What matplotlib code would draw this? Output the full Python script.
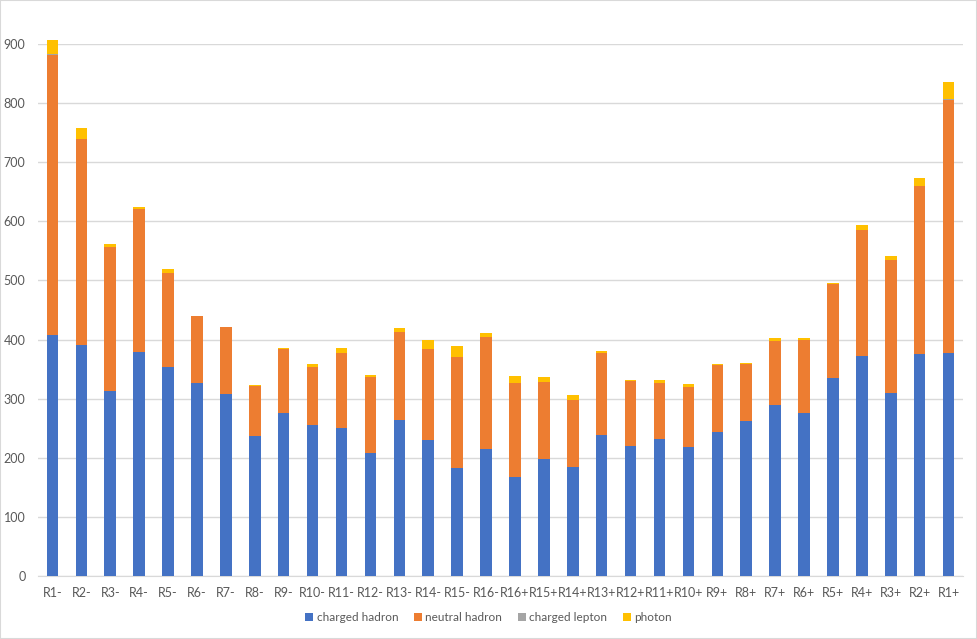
import numpy as np
import matplotlib.pyplot as plt
from matplotlib.patches import Rectangle

plt.rcParams['font.family'] = ['Lato', 'DejaVu Sans']

# categories: R1- .. R16-, then R16+ .. R1+
regions = ['R%d-' % i for i in range(1, 17)] + ['R%d+' % i for i in range(16, 0, -1)]

charged_hadron = [407, 390, 313, 379, 353, 326, 308, 237, 276, 255, 250, 208, 264, 230, 183, 215,
                  167, 198, 184, 238, 220, 232, 218, 243, 262, 289, 276, 335, 372, 309, 375, 377]
neutral_hadron = [475, 349, 243, 241, 159, 113, 113, 84, 108, 98, 127, 128, 148, 154, 187, 189,
                  159, 130, 114, 139, 110, 94, 101, 114, 96, 108, 123, 159, 213, 225, 284, 428]
charged_lepton = [0.5, 0.5, 0.5, 0.5, 0.5, 0.5, 0.3, 0.5, 0.5, 0.5, 0.5, 0.5, 0.5, 0.5, 0.5, 0.5,
                  0.5, 0.5, 0.5, 0.5, 0.5, 0.5, 0.5, 0.5, 0.5, 0.5, 0.5, 0.5, 0.5, 0.5, 0.5, 2.5]
photon = [25, 18, 4.5, 4.5, 7.5, 0.5, 0.3, 1.5, 1, 4.5, 7.5, 3.5, 6.5, 14.5, 18.5, 6.5,
          11.5, 7.5, 7.5, 2.5, 0.5, 4.5, 5.5, 0.5, 1.5, 4.5, 2.5, 0.5, 7.5, 7.5, 13.5, 27.5]

series = [
    ('charged hadron', charged_hadron, '#4472C4'),
    ('neutral hadron', neutral_hadron, '#ED7D31'),
    ('charged lepton', charged_lepton, '#A5A5A5'),
    ('photon', photon, '#FFC000'),
]

fig = plt.figure(figsize=(9.77, 6.39), dpi=100)
ax = fig.add_axes([0.0389, 0.0986, 0.9468, 0.8326])

x = np.arange(len(regions))
bottom = np.zeros(len(regions))
for name, vals, col in series:
    vals = np.array(vals, dtype=float)
    ax.bar(x, vals, 0.4, bottom=bottom, color=col, label=name, zorder=3, clip_on=False)
    bottom += vals

ax.set_xlim(-0.5, len(regions) - 0.5)
ax.set_ylim(0, 900)
ax.set_yticks(range(0, 901, 100))
ax.set_xticks(x)
ax.set_xticklabels(regions)
ax.yaxis.grid(True, color='#d9d9d9', linewidth=1, zorder=0)
for s in ['top', 'right', 'left']:
    ax.spines[s].set_visible(False)
ax.spines['bottom'].set_color('#d9d9d9')
ax.tick_params(axis='both', length=0, labelsize=9, colors='#595959')
ax.tick_params(axis='x', pad=8)
ax.tick_params(axis='y', pad=9)

fig.legend(loc='center', bbox_to_anchor=(0.5, 0.033), ncol=4, frameon=False,
           fontsize=8.5, labelcolor='#595959', handlelength=0.7, handleheight=0.7,
           handletextpad=0.3, columnspacing=1.3)

fig.add_artist(Rectangle((0, 0), 1, 1, transform=fig.transFigure, fill=False,
                         edgecolor='#d9d9d9', linewidth=1.5))

fig.savefig('out.png', dpi=100)
